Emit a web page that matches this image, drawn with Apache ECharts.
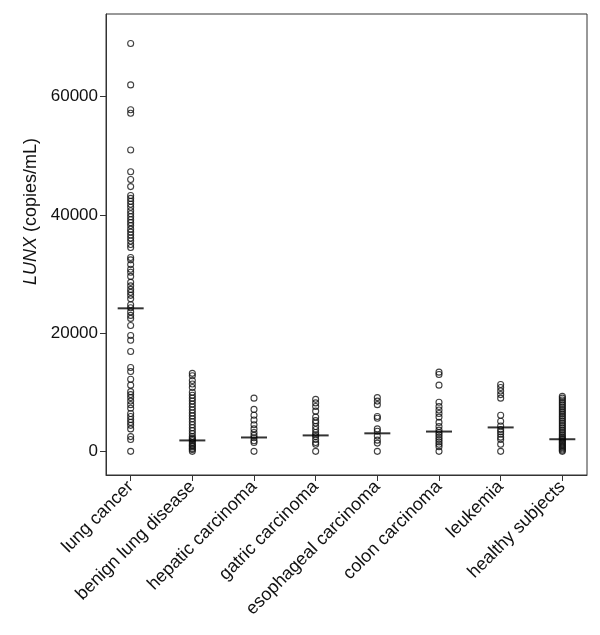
<!DOCTYPE html>
<html>
<head>
<meta charset="utf-8">
<script src="https://cdn.jsdelivr.net/npm/echarts@6/dist/echarts.min.js"></script>
<style>html,body{margin:0;padding:0;background:#fff;}#c{width:600px;height:635px;}</style>
</head>
<body>
<div id="c"></div>
<script>
const categories = ["lung cancer","benign lung disease","hepatic carcinoma","gatric carcinoma","esophageal carcinoma","colon carcinoma","leukemia","healthy subjects"];
const yTicks = [0, 20000, 40000, 60000];

const lungCancer = [69000,62000,57800,57200,51000,47300,46000,44800,43300,42800,42300,41800,41300,40700,40200,39700,39200,38700,38200,37600,37100,36600,36100,35600,35000,34500,32800,32400,31600,30800,30300,29600,28600,28000,27400,26900,26400,25800,24800,24300,23600,23000,22500,21300,19600,18800,16900,14200,13500,12200,11200,10100,9600,9100,8500,7900,7300,6400,5900,5400,4900,4400,3800,2500,2000,0];
const benignLungDisease = [13200,12800,12000,11400,10800,10000,9500,9000,8500,8000,7500,7000,6500,6000,5500,5000,4500,4000,3500,3000,2500,2200,2000,1800,1500,1200,1000,800,500,300,0];
const hepaticCarcinoma = [9000,7100,6100,5300,4500,3800,3200,2700,2300,1800,1500,0];
const gatricCarcinoma = [8800,8200,7600,6800,5800,5200,4800,4200,3700,3200,2800,2500,2000,1500,1200,0];
const esophagealCarcinoma = [9100,8500,7900,5900,5600,3800,3400,2600,1900,1400,0];
const colonCarcinoma = [13400,13000,11200,8300,7600,7000,6400,5800,4900,4200,3600,3200,2800,2400,2000,1600,1200,800,0];
const leukemia = [11300,10800,10200,9600,9000,6100,5100,4300,3700,3300,2900,2400,2000,1200,0];
const healthySubjects = [9300,9000,8700,8400,8100,7800,7500,7200,6900,6600,6300,6000,5700,5400,5100,4800,4500,4200,3900,3600,3300,3000,2700,2400,2200,2000,1800,1600,1400,1200,1000,800,600,400,200,0];
const medians = [24200,1850,2350,2700,3050,3350,4050,2050];

const groups = [lungCancer, benignLungDisease, hepaticCarcinoma, gatricCarcinoma, esophagealCarcinoma, colonCarcinoma, leukemia, healthySubjects];
const points = [];
groups.forEach((g, i) => g.forEach(v => points.push([i, v])));
const medianData = medians.map((m, i) => [i, m]);
const catIdx = categories.map((_, i) => i);

const font = 'Arial, "Liberation Sans", sans-serif';
const axisColor = '#333';

const chart = echarts.init(document.getElementById('c'), null, {renderer: 'canvas'});
chart.setOption({
  animation: false,
  backgroundColor: '#fff',
  grid: {left: 106, right: 13, top: 14, bottom: 160, show: true, borderColor: axisColor, borderWidth: 1, backgroundColor: 'transparent'},
  xAxis: {
    type: 'value', min: -0.4, max: 7.4,
    axisLine: {show: true, onZero: false, lineStyle: {color: axisColor, width: 1}},
    axisTick: {show: true, length: 6, customValues: catIdx, lineStyle: {color: axisColor}},
    axisLabel: {customValues: catIdx, rotate: 45, margin: 9, color: '#111', fontSize: 18, fontFamily: font,
      formatter: v => categories[Math.round(v)]},
    splitLine: {show: false}
  },
  yAxis: {
    type: 'value', min: -4000, max: 74000,
    name: '{i|LUNX} (copies/mL)', nameLocation: 'middle', nameGap: 56, nameRotate: 90,
    nameTextStyle: {color: '#111', fontSize: 18, fontFamily: font, padding: [0, 0, 0, 66],
      rich: {i: {fontStyle: 'italic', fontSize: 18, fontFamily: font, color: '#111'}}},
    axisLine: {show: true, onZero: false, lineStyle: {color: axisColor, width: 1}},
    axisTick: {show: true, length: 6, customValues: yTicks, lineStyle: {color: axisColor}},
    axisLabel: {customValues: yTicks, margin: 8, color: '#111', fontSize: 17, fontFamily: font,
      formatter: v => String(v)},
    splitLine: {show: false}
  },
  series: [
    {type: 'scatter', data: points, symbol: 'circle', symbolSize: 6,
     itemStyle: {color: 'rgba(0,0,0,0)', borderColor: '#111', borderWidth: 1.1}},
    {type: 'scatter', data: medianData, symbol: 'rect', symbolSize: [26, 2], z: 5,
     itemStyle: {color: '#000'}}
  ]
});
</script>
</body>
</html>
